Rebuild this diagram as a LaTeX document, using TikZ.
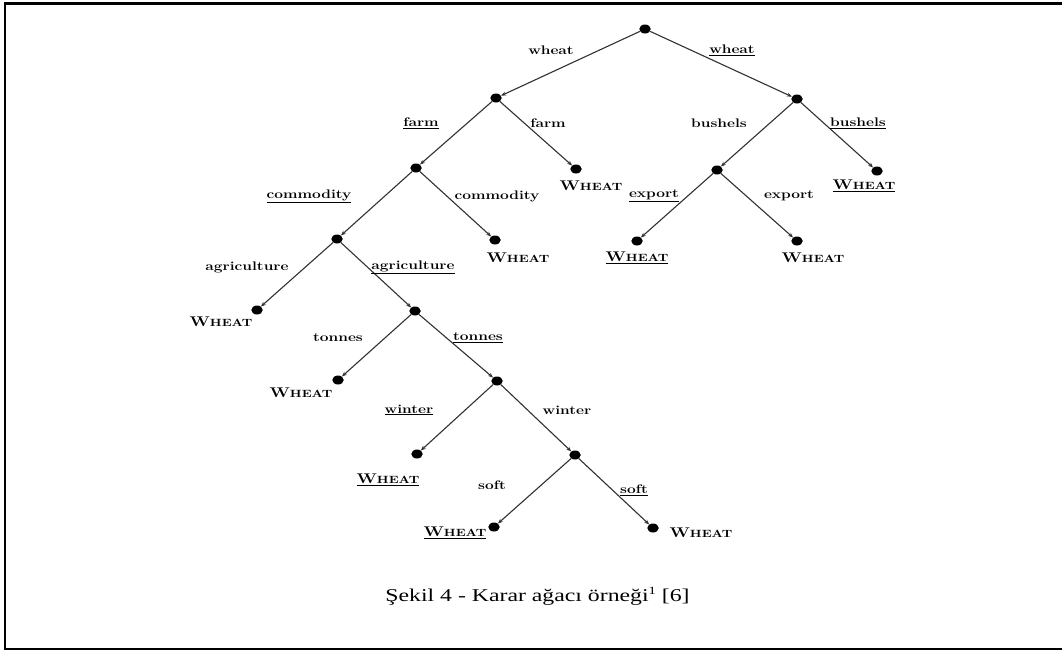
\documentclass[tikz,border=0pt]{standalone}
\usepackage{fontspec}
\usepackage{graphicx}
\usetikzlibrary{arrows.meta,shapes.geometric}
\newfontfamily\capfont{Liberation Serif}[Ligatures=TeX]

% split labels: bold, slightly widened
\newcommand\attr[1]{\scalebox{1.25}[1]{\fontsize{12.4}{14}\selectfont\bfseries #1}}
\newcommand\uattr[1]{\attr{\underline{#1}}}
% class leaf: bold small-cap style WHEAT
\newcommand\cls{\scalebox{1.25}[1]{\bfseries\fontsize{14}{16}\selectfont W\fontsize{10.5}{12}\selectfont HEAT}}
\newcommand\ucls{\scalebox{1.25}[1]{\bfseries\underline{\fontsize{14}{16}\selectfont W\fontsize{10.5}{12}\selectfont HEAT}}}
% raised footnote mark for the caption
\newcommand\fnmark[1]{\raisebox{0.4em}{\fontsize{11}{12}\selectfont #1}}

\definecolor{edgegray}{RGB}{50,50,50}

\tikzset{
  dot/.style={ellipse,fill=black,draw=none,inner sep=0pt,minimum width=11.5pt,minimum height=9pt},
  branch/.style={draw=edgegray,line width=1.1pt,-{Stealth[length=5pt,width=4pt]}},
  lab/.style={inner sep=0pt,anchor=center},
  frame/.style={line width=2.2pt,draw=black}
}

\begin{document}
\begin{tikzpicture}[x=1pt,y=-1pt]
\useasboundingbox (0,0) rectangle (1062,651);
\fill[white] (0,0) rectangle (1062,651);
% open frame (no right side)
\draw[frame] (1070,3.5) -- (5,3.5) -- (5,649) -- (1070,649);

% tree nodes
\node[dot] (root) at (645,29) {};
\node[dot] (a) at (496,98) {};
\node[dot] (b) at (797,99) {};
\node[dot] (c) at (416,168) {};
\node[dot] (d) at (576,169) {};
\node[dot] (e) at (717,170) {};
\node[dot] (f) at (877,171) {};
\node[dot] (g) at (337,239) {};
\node[dot] (h) at (495,240) {};
\node[dot] (i) at (637,241) {};
\node[dot] (j) at (797,241) {};
\node[dot] (k) at (257,310) {};
\node[dot] (l) at (415,311) {};
\node[dot] (m) at (338,380) {};
\node[dot] (n) at (497,381) {};
\node[dot] (o) at (417,454) {};
\node[dot] (p) at (575,455) {};
\node[dot] (q) at (494,527) {};
\node[dot] (r) at (653,528) {};

% branches
\draw[branch] (root) -- (a);
\draw[branch] (root) -- (b);
\draw[branch] (a) -- (c);
\draw[branch] (a) -- (d);
\draw[branch] (b) -- (e);
\draw[branch] (b) -- (f);
\draw[branch] (c) -- (g);
\draw[branch] (c) -- (h);
\draw[branch] (e) -- (i);
\draw[branch] (e) -- (j);
\draw[branch] (g) -- (k);
\draw[branch] (g) -- (l);
\draw[branch] (l) -- (m);
\draw[branch] (l) -- (n);
\draw[branch] (n) -- (o);
\draw[branch] (n) -- (p);
\draw[branch] (p) -- (q);
\draw[branch] (p) -- (r);

% branch labels
\node[lab] (t1) at (551,50) {\attr{wheat}};
\node[lab] (t2) at (732,50) {\uattr{wheat}};
\node[lab] (t3) at (421,123) {\uattr{farm}};
\node[lab] (t4) at (548,123) {\attr{farm}};
\node[lab] (t5) at (719,123) {\attr{bushels}};
\node[lab] (t6) at (858,123) {\uattr{bushels}};
\node[lab] (t7) at (309,196) {\uattr{commodity}};
\node[lab] (t8) at (497,196) {\attr{commodity}};
\node[lab] (t9) at (654,196) {\uattr{export}};
\node[lab] (t10) at (789,196) {\attr{export}};
\node[lab] (t11) at (247,267) {\attr{agriculture}};
\node[lab] (t12) at (413,267) {\uattr{agriculture}};
\node[lab] (t13) at (338,338) {\attr{tonnes}};
\node[lab] (t14) at (478,338) {\uattr{tonnes}};
\node[lab] (t15) at (409,410) {\uattr{winter}};
\node[lab] (t16) at (567,410) {\attr{winter}};
\node[lab] (t17) at (492,485) {\attr{soft}};
\node[lab] (t18) at (634,490) {\uattr{soft}};

% leaf classes
\node[lab] (w1) at (591,186) {\cls};
\node[lab] (w2) at (864,186) {\ucls};
\node[lab] (w3) at (518,258) {\cls};
\node[lab] (w4) at (637,258) {\ucls};
\node[lab] (w5) at (813,258) {\cls};
\node[lab] (w6) at (221,322) {\cls};
\node[lab] (w7) at (301,393) {\cls};
\node[lab] (w8) at (388,480) {\ucls};
\node[lab] (w9) at (455,533) {\ucls};
\node[lab] (w10) at (701,533) {\cls};

% caption
\node[lab] (cap) at (537.5,596) {\capfont\scalebox{1.32}[1]{\fontsize{18}{22}\selectfont Şekil 4 - Karar ağacı örneği\fnmark{1} [6]}};
\end{tikzpicture}
\end{document}
